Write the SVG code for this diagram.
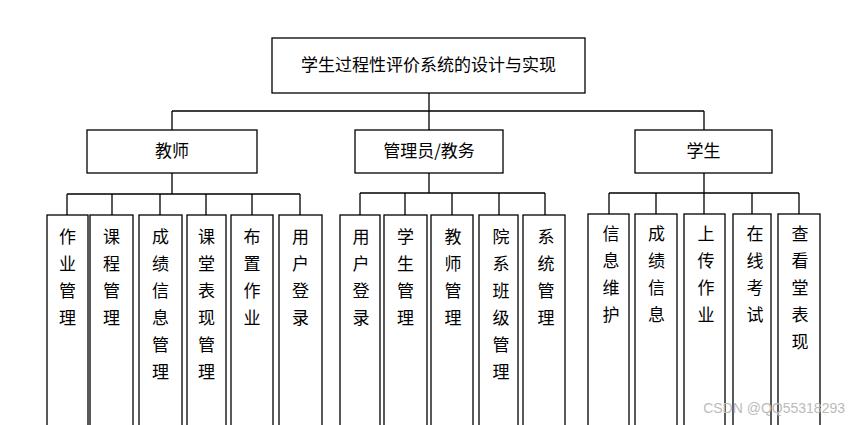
<svg xmlns="http://www.w3.org/2000/svg" width="859" height="425" viewBox="0 0 859 425">
<style>
rect{fill:#fff;stroke:#000;stroke-width:1.3}
.c path{fill:none;stroke:#000;stroke-width:1.3}
text{font-family:"Noto Sans CJK SC","Liberation Serif",serif;font-size:17px;fill:#000;text-anchor:middle}
</style>
<rect width="859" height="425" style="stroke:none"/>
<g class="c">
<path d="M429 93V111M172 111H704M172 111V130M429 111V130M704 111V130"/>
<path d="M172 173V194M67 194H300M67 194V215M112 194V215M160 194V215M206 194V215M252 194V215M300 194V215"/>
<path d="M429 173V193M360 193H545M360 193V215M405 193V215M452 193V215M499 193V215M545 193V215"/>
<path d="M704 173V193M609 193H799M609 193V214M656 193V214M704 193V214M752 193V214M799 193V214"/>
</g>
<g id="root"><rect x="272" y="38" width="313" height="55"/><text x="428.5" y="71">学生过程性评价系统的设计与实现</text></g>
<g id="teacher"><rect x="87" y="130" width="170" height="43"/><text x="172" y="157">教师</text></g>
<g id="admin"><rect x="355" y="130" width="148" height="43"/><text x="429" y="157">管理员/教务</text></g>
<g id="student"><rect x="635" y="130" width="137" height="43"/><text x="703.5" y="157">学生</text></g>
<g id="t1"><rect x="47" y="215" width="41" height="220"/><text x="67.5"><tspan x="67.5" y="243">作</tspan><tspan x="67.5" dy="27">业</tspan><tspan x="67.5" dy="27">管</tspan><tspan x="67.5" dy="27">理</tspan></text></g>
<g id="t2"><rect x="90" y="215" width="43" height="220"/><text><tspan x="111.5" y="243">课</tspan><tspan x="111.5" dy="27">程</tspan><tspan x="111.5" dy="27">管</tspan><tspan x="111.5" dy="27">理</tspan></text></g>
<g id="t3"><rect x="139" y="215" width="43" height="220"/><text><tspan x="160.5" y="243">成</tspan><tspan x="160.5" dy="27">绩</tspan><tspan x="160.5" dy="27">信</tspan><tspan x="160.5" dy="27">息</tspan><tspan x="160.5" dy="27">管</tspan><tspan x="160.5" dy="27">理</tspan></text></g>
<g id="t4"><rect x="187" y="215" width="39" height="220"/><text><tspan x="206.5" y="243">课</tspan><tspan x="206.5" dy="27">堂</tspan><tspan x="206.5" dy="27">表</tspan><tspan x="206.5" dy="27">现</tspan><tspan x="206.5" dy="27">管</tspan><tspan x="206.5" dy="27">理</tspan></text></g>
<g id="t5"><rect x="231" y="215" width="42" height="220"/><text><tspan x="252" y="243">布</tspan><tspan x="252" dy="27">置</tspan><tspan x="252" dy="27">作</tspan><tspan x="252" dy="27">业</tspan></text></g>
<g id="t6"><rect x="279" y="215" width="43" height="220"/><text><tspan x="300.5" y="243">用</tspan><tspan x="300.5" dy="27">户</tspan><tspan x="300.5" dy="27">登</tspan><tspan x="300.5" dy="27">录</tspan></text></g>
<g id="a1"><rect x="340" y="215" width="40" height="220"/><text><tspan x="361" y="243">用</tspan><tspan x="361" dy="27">户</tspan><tspan x="361" dy="27">登</tspan><tspan x="361" dy="27">录</tspan></text></g>
<g id="a2"><rect x="384" y="215" width="43" height="220"/><text><tspan x="405.5" y="243">学</tspan><tspan x="405.5" dy="27">生</tspan><tspan x="405.5" dy="27">管</tspan><tspan x="405.5" dy="27">理</tspan></text></g>
<g id="a3"><rect x="431" y="215" width="42" height="220"/><text><tspan x="453" y="243">教</tspan><tspan x="453" dy="27">师</tspan><tspan x="453" dy="27">管</tspan><tspan x="453" dy="27">理</tspan></text></g>
<g id="a4"><rect x="479" y="215" width="39" height="220"/><text><tspan x="501" y="243">院</tspan><tspan x="501" dy="27">系</tspan><tspan x="501" dy="27">班</tspan><tspan x="501" dy="27">级</tspan><tspan x="501" dy="27">管</tspan><tspan x="501" dy="27">理</tspan></text></g>
<g id="a5"><rect x="523" y="215" width="42" height="220"/><text><tspan x="546" y="243">系</tspan><tspan x="546" dy="27">统</tspan><tspan x="546" dy="27">管</tspan><tspan x="546" dy="27">理</tspan></text></g>
<g id="s1"><rect x="588" y="214" width="41" height="220"/><text><tspan x="611" y="240">信</tspan><tspan x="611" dy="27">息</tspan><tspan x="611" dy="27">维</tspan><tspan x="611" dy="27">护</tspan></text></g>
<g id="s2"><rect x="635" y="214" width="42" height="220"/><text><tspan x="656.5" y="240">成</tspan><tspan x="656.5" dy="27">绩</tspan><tspan x="656.5" dy="27">信</tspan><tspan x="656.5" dy="27">息</tspan></text></g>
<g id="s3"><rect x="684" y="214" width="41" height="220"/><text><tspan x="706" y="240">上</tspan><tspan x="706" dy="27">传</tspan><tspan x="706" dy="27">作</tspan><tspan x="706" dy="27">业</tspan></text></g>
<g id="s4"><rect x="733" y="214" width="38" height="220"/><text><tspan x="755" y="240">在</tspan><tspan x="755" dy="27">线</tspan><tspan x="755" dy="27">考</tspan><tspan x="755" dy="27">试</tspan></text></g>
<g id="s5"><rect x="778" y="214" width="42" height="220"/><text><tspan x="800" y="240">查</tspan><tspan x="800" dy="27">看</tspan><tspan x="800" dy="27">堂</tspan><tspan x="800" dy="27">表</tspan><tspan x="800" dy="27">现</tspan></text></g>
<text x="845" y="413" style="font-family:'Liberation Sans',sans-serif;font-size:14px;fill:#bbb;text-anchor:end">CSDN @QQ55318293</text>
</svg>
